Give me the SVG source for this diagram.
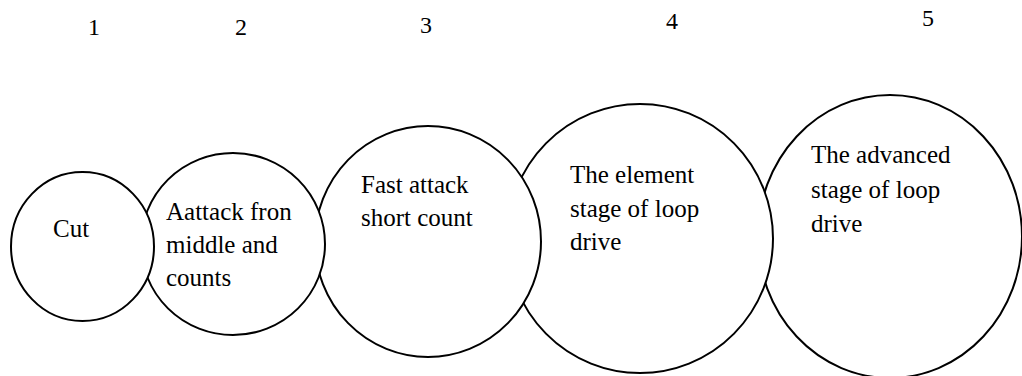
<svg xmlns="http://www.w3.org/2000/svg" width="1022" height="376" viewBox="0 0 1022 376">
<style>
.c{fill:#fff;stroke:#000;stroke-width:2}
</style>
<rect width="1022" height="376" fill="#fff"/>
<g id="numbers" fill="#000">
<text x="88" y="35" font-family="Liberation Serif, serif" font-size="24">1</text>
<text x="235" y="35" font-family="Liberation Serif, serif" font-size="24">2</text>
<text x="420" y="33" font-family="Liberation Serif, serif" font-size="24">3</text>
<text x="666" y="29" font-family="Liberation Serif, serif" font-size="24">4</text>
<text x="922" y="26" font-family="Liberation Serif, serif" font-size="24">5</text>
</g>
<g id="connectors"></g>
<g id="node5">
<ellipse class="c" cx="890" cy="236.5" rx="132" ry="141.5"/>
<text x="811" y="163" font-family="Liberation Serif, serif" font-size="25">The advanced</text>
<text x="811" y="198" font-family="Liberation Serif, serif" font-size="25">stage of loop</text>
<text x="811" y="232" font-family="Liberation Serif, serif" font-size="25">drive</text>
</g>
<g id="node4">
<ellipse class="c" cx="640" cy="238.5" rx="133" ry="134.5"/>
<text x="570" y="183" font-family="Liberation Serif, serif" font-size="25">The element</text>
<text x="570" y="217" font-family="Liberation Serif, serif" font-size="25">stage of loop</text>
<text x="570" y="250" font-family="Liberation Serif, serif" font-size="25">drive</text>
</g>
<g id="node3">
<ellipse class="c" cx="428" cy="241.5" rx="113" ry="115.5"/>
<text x="361" y="193" font-family="Liberation Serif, serif" font-size="25">Fast attack</text>
<text x="361" y="226" font-family="Liberation Serif, serif" font-size="25">short count</text>
</g>
<g id="node2">
<ellipse class="c" cx="233" cy="244" rx="92" ry="91"/>
<text x="166" y="220" font-family="Liberation Serif, serif" font-size="25">Aattack fron</text>
<text x="166" y="253" font-family="Liberation Serif, serif" font-size="25">middle and</text>
<text x="166" y="286" font-family="Liberation Serif, serif" font-size="25">counts</text>
</g>
<g id="node1">
<ellipse class="c" cx="82.5" cy="246.5" rx="71.5" ry="74.5"/>
<text x="53" y="237" font-family="Liberation Serif, serif" font-size="25">Cut</text>
</g>
</svg>
